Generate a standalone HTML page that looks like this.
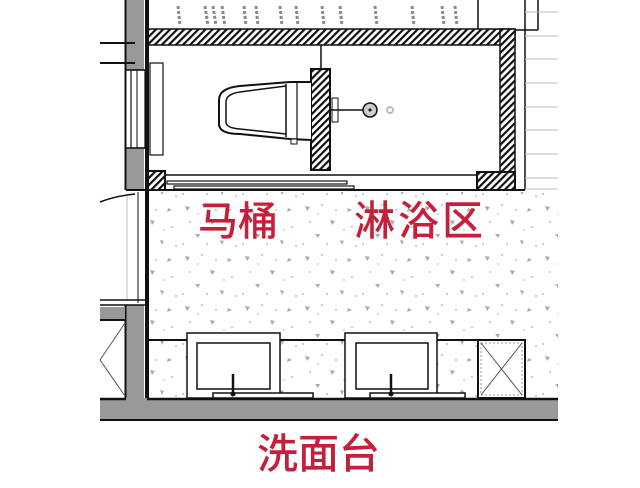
<!DOCTYPE html>
<html><head><meta charset="utf-8"><style>
html,body{margin:0;padding:0;background:#fff;width:640px;height:488px;overflow:hidden}
svg{display:block}
.t{font-family:"Liberation Sans","Noto Sans CJK SC",sans-serif;fill:#c41f3b;font-weight:500}
</style></head><body>
<svg width="640" height="488" viewBox="0 0 640 488" xmlns="http://www.w3.org/2000/svg">
<defs>
<pattern id="h" width="5" height="5" patternUnits="userSpaceOnUse" patternTransform="rotate(45)">
<rect width="5" height="5" fill="#fff"/><rect width="2.2" height="5" fill="#111"/></pattern>
<pattern id="sp" width="60" height="50" patternUnits="userSpaceOnUse">
<rect width="60" height="50" fill="#fff"/>
<g fill="#aaa">
<path d="M5 6l5 1-3 4z"/><path d="M30 20l5 1-3 4z"/><path d="M48 8l4 2-5 2z"/><path d="M15 34l5 0-2 4z"/><path d="M40 40l4 1-2 4z"/>
<circle cx="22" cy="5" r=".9"/><circle cx="52" cy="27" r=".9"/><circle cx="10" cy="22" r=".9"/><circle cx="36" cy="10" r=".9"/><circle cx="27" cy="44" r=".9"/><circle cx="3" cy="44" r=".9"/><circle cx="56" cy="46" r=".9"/><circle cx="44" cy="30" r=".8"/><circle cx="18" cy="14" r=".8"/>
</g></pattern>
</defs>
<rect x="148" y="192" width="410" height="206" fill="url(#sp)"/>
<g stroke="#888" stroke-width="3" stroke-dasharray="3 2">
<line x1="178" y1="6" x2="180" y2="26"/><line x1="205" y1="6" x2="208" y2="26"/><line x1="213" y1="6" x2="216" y2="26"/><line x1="222" y1="6" x2="225" y2="26"/><line x1="244" y1="6" x2="246" y2="26"/><line x1="256" y1="6" x2="258" y2="26"/><line x1="280" y1="6" x2="282" y2="26"/><line x1="296" y1="6" x2="298" y2="26"/><line x1="322" y1="6" x2="324" y2="26"/><line x1="340" y1="6" x2="342" y2="26"/><line x1="375" y1="6" x2="377" y2="26"/><line x1="412" y1="6" x2="414" y2="26"/><line x1="442" y1="6" x2="444" y2="26"/><line x1="455" y1="6" x2="457" y2="26"/>
</g>
<g stroke="#111" stroke-width="1.5" fill="none">
<line x1="478" y1="0" x2="478" y2="30"/><line x1="538" y1="0" x2="538" y2="30"/><line x1="478" y1="30" x2="538" y2="30"/>
<line x1="525" y1="0" x2="525" y2="190"/>
</g>
<g stroke="#bbb" stroke-width="1">
<line x1="525" y1="12" x2="558" y2="12"/><line x1="525" y1="36" x2="558" y2="36"/><line x1="525" y1="59" x2="558" y2="59"/><line x1="525" y1="83" x2="558" y2="83"/><line x1="525" y1="107" x2="558" y2="107"/><line x1="525" y1="130" x2="558" y2="130"/><line x1="525" y1="154" x2="558" y2="154"/><line x1="525" y1="178" x2="558" y2="178"/><line x1="525" y1="189" x2="558" y2="189"/>
</g>
<rect x="148" y="29" width="367" height="16" fill="url(#h)" stroke="#111" stroke-width="1.5"/>
<rect x="500" y="29" width="15" height="161" fill="url(#h)" stroke="#111" stroke-width="1.5"/>
<rect x="477" y="172" width="38" height="18" fill="url(#h)" stroke="#111" stroke-width="2"/>
<rect x="148" y="171" width="17" height="19" fill="url(#h)" stroke="#111" stroke-width="2"/>
<line x1="148" y1="190" x2="525" y2="190" stroke="#111" stroke-width="2"/>
<line x1="165" y1="175" x2="477" y2="175" stroke="#111" stroke-width="1.5"/>
<rect x="167" y="181" width="180" height="3" fill="none" stroke="#111" stroke-width="1.2"/>
<rect x="174" y="186" width="180" height="3" fill="none" stroke="#111" stroke-width="1.2"/>
<line x1="321" y1="45" x2="321" y2="69" stroke="#111" stroke-width="1.5"/>
<rect x="311" y="69" width="19" height="101" fill="url(#h)" stroke="#111" stroke-width="2"/>
<path d="M311 82 L290 82 L240 86 Q219 88 219 100 L219 124 Q219 134 240 134 L290 139 L311 140" fill="#fff" stroke="#111" stroke-width="2"/>
<path d="M286 86 L240 92 Q226 94 226 102 L226 122 Q226 128 240 129 L286 134" fill="none" stroke="#111" stroke-width="1.5"/>
<line x1="286" y1="84" x2="286" y2="137" stroke="#111" stroke-width="1.5"/>
<line x1="297" y1="83" x2="297" y2="139" stroke="#111" stroke-width="1.2"/>
<rect x="291" y="139" width="6" height="5" fill="#fff" stroke="#111"/>
<line x1="330" y1="110" x2="364" y2="110" stroke="#111" stroke-width="1.5"/>
<rect x="332" y="98" width="6" height="24" fill="none" stroke="#111"/>
<circle cx="370" cy="110" r="7" fill="#ccc" stroke="#111" stroke-width="1.5"/>
<circle cx="370" cy="110" r="1.5" fill="#111"/>
<circle cx="390" cy="110" r="3" fill="none" stroke="#bbb" stroke-width="2"/>
<rect x="125" y="0" width="23" height="410" fill="#fff"/>
<rect x="126" y="0" width="18" height="70" fill="#999"/>
<rect x="126" y="148" width="18" height="42" fill="#999"/>
<rect x="126" y="305" width="18" height="100" fill="#999"/>
<g stroke="#111" fill="none">
<line x1="125.5" y1="0" x2="125.5" y2="190" stroke-width="2"/>
<line x1="147" y1="0" x2="147" y2="420" stroke-width="4"/>
<line x1="125.5" y1="305" x2="125.5" y2="398" stroke-width="2"/>
<rect x="131" y="70" width="14" height="78" stroke-width="1.2"/>
<line x1="137" y1="70" x2="137" y2="148"/>
<rect x="150" y="63" width="13" height="92" stroke-width="1.2"/>
<line x1="100" y1="43" x2="135" y2="43" stroke-width="2"/><line x1="100" y1="63" x2="135" y2="63" stroke-width="2"/>
<line x1="126" y1="70" x2="145" y2="70" stroke-width="1.5"/><line x1="126" y1="148" x2="145" y2="148" stroke-width="1.5"/>
<line x1="126" y1="190" x2="145" y2="190" stroke-width="2"/>
<line x1="138" y1="192" x2="138" y2="303" stroke-width="1"/>
<line x1="127" y1="195" x2="127" y2="300" stroke="#bbb" stroke-width="1"/>
<path d="M100 202 Q115 196 135 194" stroke-width="1.5"/>
<line x1="100" y1="300" x2="145" y2="300" stroke-width="1.5"/>
<line x1="100" y1="305" x2="145" y2="305" stroke-width="1.5"/>
</g>
<rect x="100" y="307" width="25" height="12" fill="#999"/>
<line x1="100" y1="320" x2="125" y2="320" stroke="#111" stroke-width="2"/>
<path d="M100 360 L125 323 M100 360 L125 396" stroke="#555" fill="none"/>
<line x1="148" y1="340" x2="525" y2="340" stroke="#111" stroke-width="2"/>
<g fill="#fff" stroke="#111" stroke-width="1.5">
<rect x="187" y="333" width="93" height="65"/><rect x="197" y="343" width="73" height="46"/>
<rect x="345" y="333" width="92" height="65"/><rect x="356" y="343" width="72" height="46"/>
<rect x="213" y="393" width="100" height="5"/><rect x="370" y="393" width="95" height="5"/>
</g>
<g stroke="#111" stroke-width="2.5"><line x1="233" y1="374" x2="233" y2="394"/><line x1="391" y1="374" x2="391" y2="394"/></g>
<circle cx="233" cy="394" r="2.5" fill="#111"/><circle cx="391" cy="394" r="2.5" fill="#111"/>
<rect x="478" y="340" width="47" height="58" fill="#fff" stroke="#111" stroke-width="2"/>
<rect x="481" y="343" width="41" height="52" fill="none" stroke="#999" stroke-dasharray="2 2"/>
<path d="M481 343 L522 395 M522 343 L481 395" stroke="#555"/>
<rect x="100" y="398" width="458" height="22" fill="#999"/>
<line x1="147" y1="399" x2="558" y2="399" stroke="#111" stroke-width="2.5"/>
<line x1="100" y1="399" x2="126" y2="399" stroke="#111" stroke-width="2.5"/>
<line x1="100" y1="420" x2="558" y2="420" stroke="#111" stroke-width="2"/>
<text class="t" x="198" y="235" font-size="40">马桶</text>
<text class="t" x="354" y="235" font-size="41" letter-spacing="3">淋浴区</text>
<text class="t" x="257" y="468" font-size="41">洗面台</text>
</svg>
</body></html>
